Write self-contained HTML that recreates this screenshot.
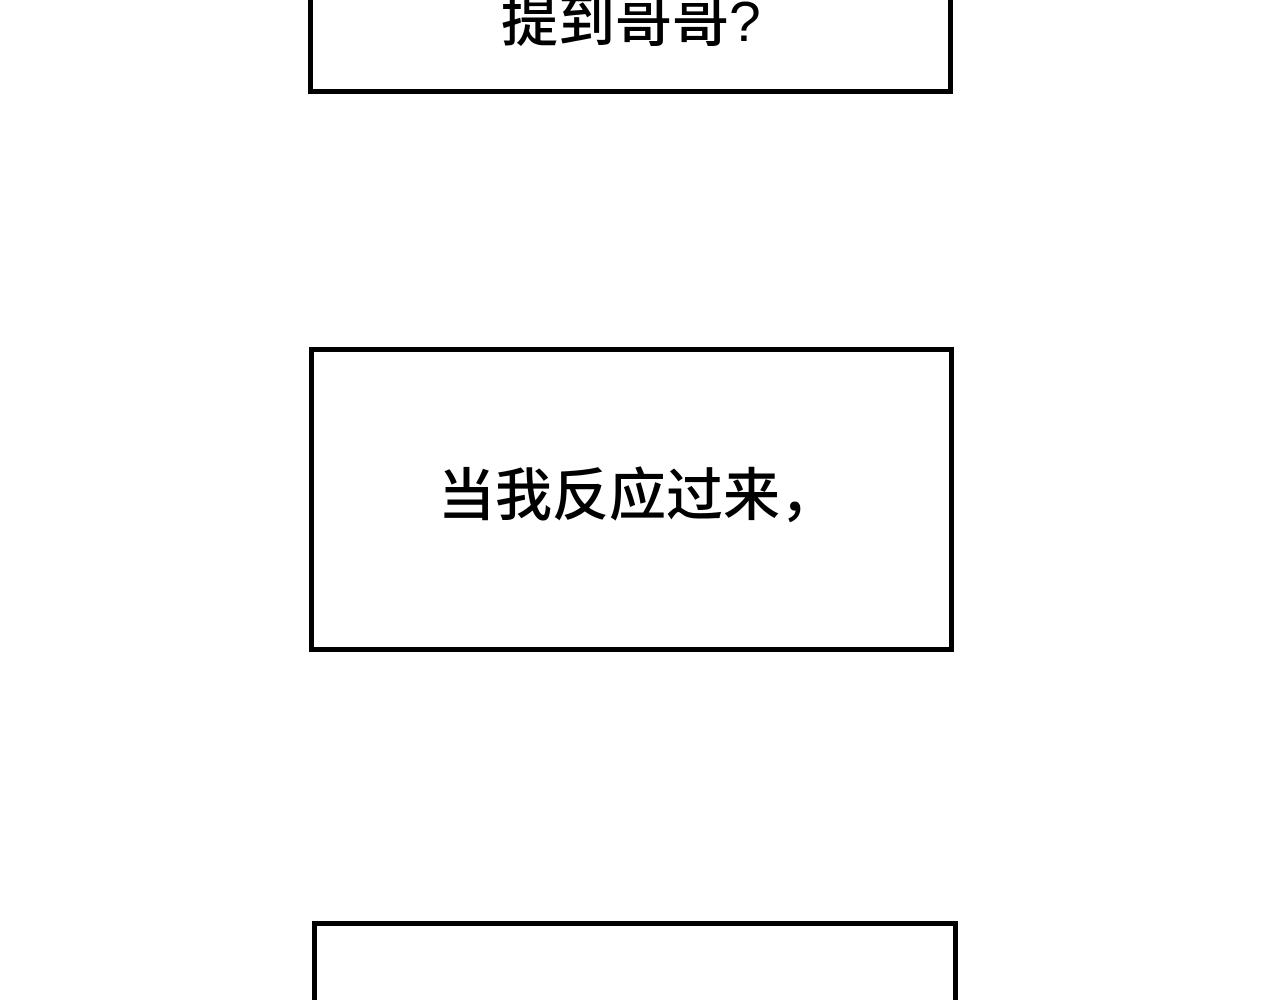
<!DOCTYPE html>
<html><head><meta charset="utf-8"><style>
html,body{margin:0;padding:0;background:#fff;overflow:hidden;}
body{width:1280px;height:1000px;position:relative;overflow:hidden;}
.box{position:absolute;border:5px solid #000;box-sizing:border-box;background:#fff;}
.t{position:absolute;font-family:"Liberation Sans","Noto Sans CJK SC",sans-serif;font-weight:500;font-size:57px;line-height:1;color:#000;white-space:nowrap;}
</style></head><body>
<div class="box" style="left:308px;top:-20px;width:645px;height:114px;"></div>
<div class="t" style="left:501px;top:-6px;">提到哥哥?</div>
<div class="box" style="left:309px;top:347px;width:645px;height:305px;"></div>
<div class="t" style="left:438px;top:468px;">当我反应过来，</div>
<div class="box" style="left:312px;top:921px;width:646px;height:79px;border-bottom:none;"></div>
</body></html>
